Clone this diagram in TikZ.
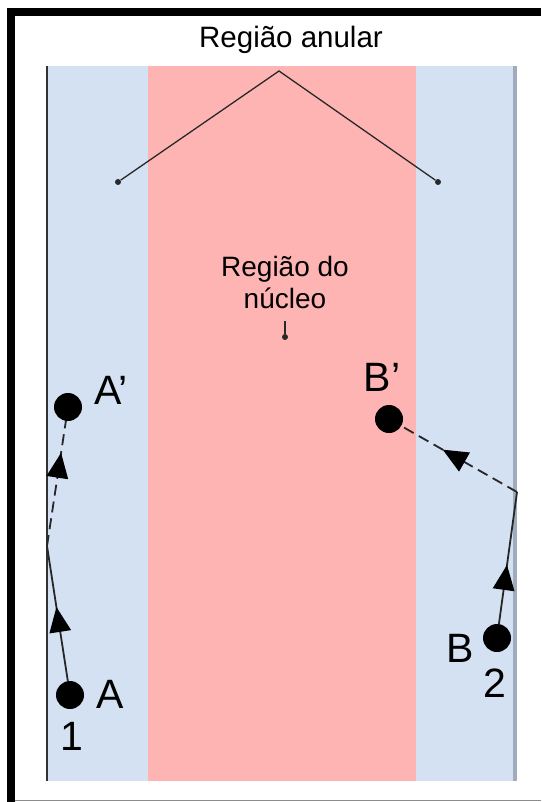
\documentclass[tikz,border=0pt]{standalone}
\usepackage{fontspec}
\setmainfont{Liberation Sans}
\usetikzlibrary{calc}
\definecolor{annblue}{RGB}{212,225,243}
\definecolor{corepink}{RGB}{255,180,180}
\definecolor{edgegray}{RGB}{160,172,190}
\definecolor{leadgray}{RGB}{40,40,40}
% #1 start, #2 end, #3 fraction where the tip sits
\newcommand\moveheadtri[3]{%
  \coordinate (tipx) at ($(#1)!#3!(#2)$);
  \coordinate (basex) at ($(tipx)!25pt!(#1)$);
  \fill[black] (tipx) -- ($(basex)!11pt!90:(tipx)$) -- ($(basex)!11pt!-90:(tipx)$) -- cycle;}
\begin{document}
\begin{tikzpicture}[x=1pt,y=-1pt,
  bigdot/.style={circle,fill=black,inner sep=0pt,minimum size=28pt},
  smalldot/.style={circle,fill=leadgray,inner sep=0pt,minimum size=6pt},
  ptlabel/.style={font=\fontsize{41}{41}\selectfont,inner sep=0pt},
  titlelabel/.style={font=\fontsize{29.5}{29.5}\selectfont,inner sep=0pt,anchor=base},
  corelabel/.style={font=\fontsize{28}{28}\selectfont,inner sep=0pt,anchor=base},
  leader/.style={draw=leadgray,line width=1.3pt},
  move/.style={draw=black!85,line width=1.8pt},
  dashmove/.style={move,dash pattern=on 11pt off 6pt},
]
\useasboundingbox (0,0) rectangle (541,802);
\fill[white] (0,0) rectangle (541,802);
% regions
\fill[annblue] (47,66) rectangle (148,781);
\fill[corepink] (148,66) rectangle (416,781);
\fill[annblue] (416,66) rectangle (516,781);
\draw[draw=black!80,line width=2pt] (47,66) -- (47,781);
\draw[draw=edgegray,line width=3.5pt] (515,66) -- (515,781);
% frame
\fill[black] (7,8) rectangle (541,16);
\fill[black] (7,8) rectangle (15,802);
\draw[draw=black!45,line width=1.5pt] (15,800.5) -- (541,800.5);
% annular label
\node[titlelabel] (anular) at (291,48) {Região anular};
\coordinate (apex) at (279,71);
\node[smalldot] (dl) at (118,182) {};
\node[smalldot] (dr) at (438,182) {};
\draw[leader] (dl) -- (apex) -- (dr);
% core label
\node[corelabel] (nuc1) at (285,276) {Região do};
\node[corelabel] (nuc2) at (285,308) {núcleo};
\coordinate (ctop) at (285,321);
\node[smalldot] (cdot) at (285,337) {};
\draw[leader,line width=2pt] (ctop) -- (cdot);
% points
\node[bigdot] (A) at (70,695) {};
\node[bigdot] (Ap) at (68,407) {};
\node[bigdot] (B) at (497,638) {};
\node[bigdot] (Bp) at (389,419) {};
\coordinate (ka) at (47,546);
\coordinate (kb) at (517,492);
\draw[move] (A) -- (ka);
\draw[dashmove] (ka) -- (Ap);
\draw[move] (B) -- (kb);
\draw[dashmove] (kb) -- (Bp);
\moveheadtri{A}{ka}{0.59}
\moveheadtri{ka}{Ap}{0.67}
\moveheadtri{B}{kb}{0.5}
\moveheadtri{kb}{Bp}{0.58}
% labels
\node[ptlabel] (lA) at (110,694) {A};
\node[ptlabel] (l1) at (72,736) {1};
\node[ptlabel] (lAp) at (111,390) {A’};
\node[ptlabel] (lBp) at (382,377) {B’};
\node[ptlabel] (lB) at (460,648) {B};
\node[ptlabel] (l2) at (495,683) {2};
\end{tikzpicture}
\end{document}
